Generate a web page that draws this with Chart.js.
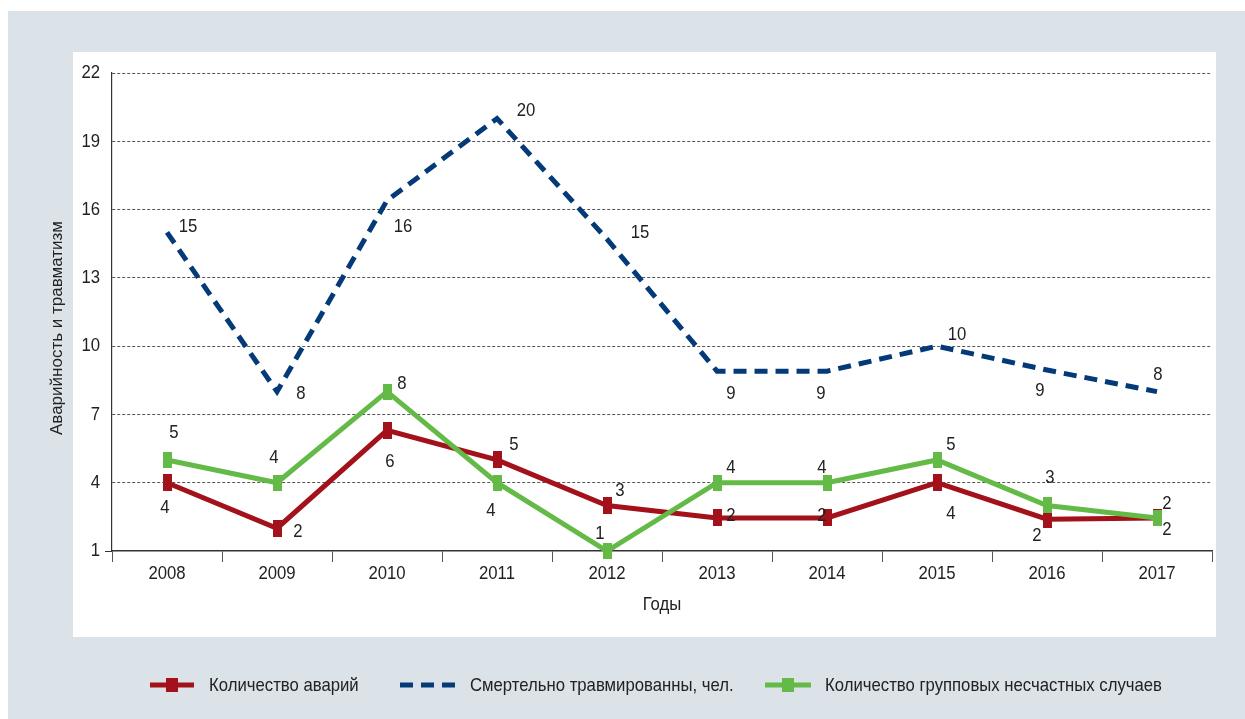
<!DOCTYPE html>
<html><head><meta charset="utf-8">
<script src="https://cdn.jsdelivr.net/npm/chart.js@4.4.1/dist/chart.umd.min.js"></script>
<style>html,body{margin:0;padding:0;background:#fff;}#wrap{width:1245px;height:719px;position:relative;}</style>
</head><body><div id="wrap"><canvas id="c" width="1245" height="719"></canvas></div>
<script>
// ---- data ----
const years = ['2008','2009','2010','2011','2012','2013','2014','2015','2016','2017'];
const accidents = [4, 2, 6.3, 5, 3, 2.45, 2.45, 4, 2.4, 2.45];          // Количество аварий
const fatalities = [15, 8, 16.4, 20, 14.7, 8.9, 8.9, 10, 8.95, 8];      // Смертельно травмированны, чел.
const groupCases = [5, 4, 8, 4, 1, 4, 4, 5, 3, 2.45];                   // Количество групповых несчастных случаев
const seriesNames = ['Количество аварий', 'Смертельно травмированны, чел.', 'Количество групповых несчастных случаев'];
const yTitle = 'Аварийность и травматизм';
const xTitle = 'Годы';
const yMin = 1, yMax = 22, yStep = 3;

// ---- label placement (style only) ----
const accOffsets = [[-2,25],[21,4],[3,31],[17,-15],[13,-15],[14,-2],[-5,-2],[14,31],[-10,17],[10,12]];
const fatOffsets = [[21,-6],[24,2],[16,26],[29,-8],[33,-6],[14,23],[-6,23],[20,-11],[-7,21],[1,-17]];
const grpOffsets = [[7,-27],[-3,-25],[15,-8],[-6,28],[-7,-17],[14,-15],[-5,-15],[14,-15],[3,-28],[10,-14]];

const RED = '#a3111b', BLUE = '#043a78', GREEN = '#64ba47';
// "xcond" is a marker family: text in this font is drawn horizontally condensed
const NARROW = 'xcond, "Liberation Sans", Arial, sans-serif';
const COND = 0.88;
const TEXT = '#222';

(function patchCondensed() {
  const P = CanvasRenderingContext2D.prototype;
  const orig = P.fillText;
  P.fillText = function (text, x, y, maxWidth) {
    if (String(this.font).indexOf('xcond') !== -1) {
      this.save();
      this.translate(x, y);
      this.scale(COND, 1);
      if (maxWidth !== undefined) orig.call(this, text, 0, 0, maxWidth / COND);
      else orig.call(this, text, 0, 0);
      this.restore();
    } else {
      if (maxWidth !== undefined) orig.call(this, text, x, y, maxWidth);
      else orig.call(this, text, x, y);
    }
  };
})();

function rectMarker(w, h, color) {
  const c = document.createElement('canvas');
  c.width = w; c.height = h;
  const g = c.getContext('2d');
  g.fillStyle = color; g.fillRect(0, 0, w, h);
  return c;
}

const bgPlugin = {
  id: 'bg',
  beforeDraw(chart) {
    const ctx = chart.ctx;
    ctx.save();
    ctx.fillStyle = '#ffffff'; ctx.fillRect(0, 0, 1245, 719);
    ctx.fillStyle = '#dbe2e8'; ctx.fillRect(8, 11, 1237, 708);
    ctx.fillStyle = '#ffffff'; ctx.fillRect(73, 52, 1143, 585);
    ctx.restore();
  },
  afterDraw(chart) {
    const ctx = chart.ctx;
    ctx.save();
    ctx.translate(57, 328);
    ctx.rotate(-Math.PI / 2);
    ctx.font = '17px "Liberation Sans", Arial, sans-serif';
    ctx.fillStyle = TEXT;
    ctx.textAlign = 'center';
    ctx.textBaseline = 'middle';
    ctx.fillText(yTitle, 0, 0);
    ctx.restore();
  }
};

const labelPlugin = {
  id: 'vlabels',
  afterDatasetsDraw(chart) {
    const ctx = chart.ctx;
    ctx.save();
    ctx.font = '19px ' + NARROW;
    ctx.fillStyle = TEXT;
    ctx.textAlign = 'center';
    ctx.textBaseline = 'middle';
    chart.data.datasets.forEach((ds, i) => {
      const meta = chart.getDatasetMeta(i);
      meta.data.forEach((pt, j) => {
        const o = ds.labelOffsets[j];
        ctx.fillText(String(Math.round(ds.data[j])), pt.x + o[0], pt.y + o[1]);
      });
    });
    ctx.restore();
  }
};

const legendPlugin = {
  id: 'customLegend',
  afterDraw(chart) {
    const ctx = chart.ctx;
    const y = 685;
    ctx.save();
    ctx.strokeStyle = RED; ctx.lineWidth = 5;
    ctx.beginPath(); ctx.moveTo(150, y); ctx.lineTo(194, y); ctx.stroke();
    ctx.fillStyle = RED; ctx.fillRect(166, y - 7, 12, 14);
    ctx.strokeStyle = BLUE; ctx.setLineDash([13, 8]); ctx.lineCap = 'butt';
    ctx.beginPath(); ctx.moveTo(400, y); ctx.lineTo(455, y); ctx.stroke();
    ctx.setLineDash([]);
    ctx.strokeStyle = GREEN;
    ctx.beginPath(); ctx.moveTo(765, y); ctx.lineTo(811, y); ctx.stroke();
    ctx.fillStyle = GREEN; ctx.fillRect(782, y - 7, 12, 14);
    ctx.fillStyle = TEXT; ctx.font = '19px ' + NARROW;
    ctx.textAlign = 'left'; ctx.textBaseline = 'middle';
    ctx.fillText(seriesNames[0], 209, y + 1);
    ctx.fillText(seriesNames[1], 470, y + 1);
    ctx.fillText(seriesNames[2], 825, y + 1);
    ctx.restore();
  }
};

new Chart(document.getElementById('c'), {
  type: 'line',
  data: {
    labels: years,
    datasets: [
      { label: seriesNames[0], data: accidents, borderColor: RED, backgroundColor: RED, borderWidth: 5,
        pointStyle: rectMarker(9, 17, RED), pointRadius: 5, pointHoverRadius: 5, borderJoinStyle: 'miter',
        fill: false, tension: 0, clip: false, order: 3, labelOffsets: accOffsets },
      { label: seriesNames[1], data: fatalities, borderColor: BLUE, backgroundColor: BLUE, borderWidth: 5,
        borderDash: [13, 8], borderCapStyle: 'butt', borderJoinStyle: 'miter', pointRadius: 0, pointHoverRadius: 0,
        fill: false, tension: 0, clip: false, order: 2, labelOffsets: fatOffsets },
      { label: seriesNames[2], data: groupCases, borderColor: GREEN, backgroundColor: GREEN, borderWidth: 5,
        pointStyle: rectMarker(9, 16, GREEN), pointRadius: 5, pointHoverRadius: 5, borderJoinStyle: 'miter',
        fill: false, tension: 0, clip: false, order: 1, labelOffsets: grpOffsets }
    ]
  },
  options: {
    responsive: false,
    animation: false,
    devicePixelRatio: 1,
    events: [],
    layout: { padding: { left: 0, top: 73, right: 33, bottom: 0 } },
    plugins: { legend: { display: false }, tooltip: { enabled: false }, title: { display: false } },
    scales: {
      x: {
        type: 'category',
        offset: true,
        afterFit(scale) { scale.height = 168; },
        grid: { display: true, drawOnChartArea: false, drawTicks: true, tickLength: 11, tickColor: '#555', tickWidth: 1, offset: true },
        border: { display: true, color: '#333', width: 1.5 },
        ticks: { color: TEXT, font: { family: NARROW, size: 19 }, padding: 0, maxRotation: 0, autoSkip: false },
        title: { display: true, text: xTitle, color: TEXT, font: { family: NARROW, size: 19 }, padding: { top: 0, bottom: 103 } }
      },
      y: {
        min: yMin, max: yMax,
        afterFit(scale) { scale.width = 112; },
        afterBuildTicks(scale) {
          const t = [];
          for (let v = yMin; v <= yMax; v += yStep) t.push({ value: v });
          scale.ticks = t;
        },
        grid: {
          color: (c) => (c.tick && c.tick.value === yMin) ? 'rgba(0,0,0,0)' : '#555',
          lineWidth: 1,
          drawTicks: true, tickLength: 7,
          tickColor: (c) => (c.tick && c.tick.value === yMin) ? '#333' : 'rgba(0,0,0,0)'
        },
        border: { display: true, color: '#333', width: 1.2, dash: [3, 2] },
        ticks: { color: TEXT, font: { family: NARROW, size: 19 }, padding: 5, stepSize: yStep },
        title: { display: false }
      }
    }
  },
  plugins: [bgPlugin, labelPlugin, legendPlugin]
});
</script>
</body></html>
